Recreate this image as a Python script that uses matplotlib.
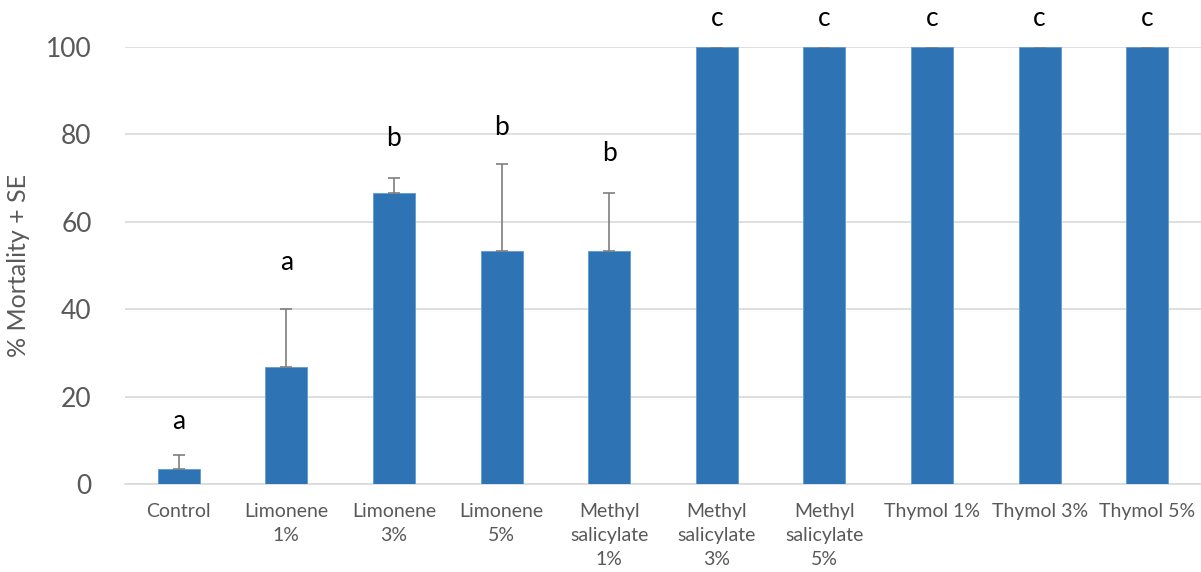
import matplotlib
matplotlib.use("Agg")
import matplotlib.pyplot as plt

# data
labels = ["Control", "Limonene\n1%", "Limonene\n3%", "Limonene\n5%",
          "Methyl\nsalicylate\n1%", "Methyl\nsalicylate\n3%", "Methyl\nsalicylate\n5%",
          "Thymol 1%", "Thymol 3%", "Thymol 5%"]
mortality = [3.33, 26.67, 66.67, 53.33, 53.33, 100, 100, 100, 100, 100]
se = [3.33, 13.33, 3.33, 20.0, 13.33, 0, 0, 0, 0, 0]
letters = ["a", "a", "b", "b", "b", "c", "c", "c", "c", "c"]
letter_y = [14.2, 50.6, 79.0, 81.5, 75.7, 106.6, 106.6, 106.6, 106.6, 106.6]

plt.rcParams["font.family"] = ["Lato", "DejaVu Sans"]

fig = plt.figure(figsize=(12.01, 5.72), dpi=100)
ax = fig.add_axes([125 / 1201, 88 / 572, 1076 / 1201, 437 / 572])

x = list(range(len(labels)))
ax.bar(x, mortality, width=0.39, color="#2E73B4", edgecolor="#5B9BD5",
       linewidth=0.6, zorder=3)
ax.errorbar(x, mortality, yerr=[[0] * len(se), se], fmt="none",
            ecolor="#7F7F7F", elinewidth=1.2, capsize=4, capthick=1.2, zorder=4)

for xi, t, ty in zip(x, letters, letter_y):
    ax.text(xi, ty, t, ha="center", va="center", fontsize=19,
            color="black", clip_on=False)

ax.set_xlim(-0.5, len(labels) - 0.5)
ax.set_ylim(0, 100)
ax.set_yticks(range(0, 101, 20))
ax.grid(axis="y", color="#D9D9D9", linewidth=1.2, zorder=0)
for s in ["top", "right", "left"]:
    ax.spines[s].set_visible(False)
ax.spines["bottom"].set_color("#D9D9D9")
ax.spines["bottom"].set_linewidth(1.2)

ax.set_xticks(x)
ax.set_xticklabels(labels, fontsize=14, color="#595959", linespacing=1.5)
ax.tick_params(axis="x", length=0, pad=14)
ax.tick_params(axis="y", length=0, pad=24, labelsize=19, labelcolor="#595959")

ax.set_ylabel("% Mortality + SE", fontsize=18, color="#595959")
ax.yaxis.set_label_coords(-0.088, 0.5)

fig.savefig("out.png", dpi=100)
